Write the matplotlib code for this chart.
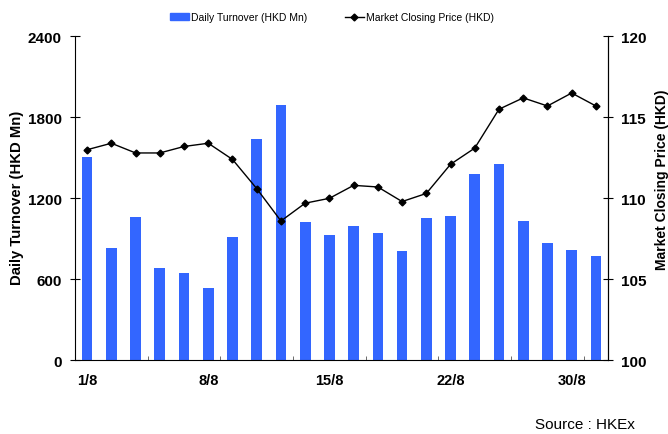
import matplotlib
matplotlib.use("Agg")
import matplotlib.pyplot as plt
from matplotlib.lines import Line2D
from matplotlib.patches import Patch
import numpy as np

plt.rcParams['font.family'] = ['Liberation Sans', 'DejaVu Sans']

# 交易日 (2006年8月)
dates = ["1/8", "2/8", "3/8", "4/8", "7/8", "8/8", "9/8", "10/8", "11/8", "14/8", "15/8",
         "16/8", "17/8", "18/8", "21/8", "22/8", "23/8", "24/8", "25/8", "29/8", "30/8", "31/8"]
turnover = [1504, 832, 1061, 681, 644, 535, 916, 1637, 1891, 1022, 930,
            997, 943, 807, 1052, 1067, 1380, 1454, 1034, 871, 817, 770]
price = [113.0, 113.4, 112.8, 112.8, 113.2, 113.4, 112.4, 110.6, 108.6, 109.7, 110.0,
         110.8, 110.7, 109.8, 110.3, 112.1, 113.1, 115.5, 116.2, 115.7, 116.5, 115.7]
label_dates = ["1/8", "8/8", "15/8", "22/8", "30/8"]

x = np.arange(len(dates))

fig = plt.figure(figsize=(6.68, 4.35), dpi=100)
ax = fig.add_axes([0.1123, 0.1694, 0.7979, 0.7448])
ax2 = ax.twinx()

ax.bar(x, turnover, width=0.44, color="#3366FF", zorder=2)
ax2.plot(x, price, color="black", lw=1, marker="D", ms=3.5, zorder=3)

ax.set_xlim(-0.5, len(dates) - 0.5)
ax.set_ylim(0, 2400)
ax.set_yticks([0, 600, 1200, 1800, 2400])
ax2.set_ylim(100, 120)
ax2.set_yticks([100, 105, 110, 115, 120])

# x軸: ラベルは5日ごと, 目盛りは3日ごと
ax.set_xticks([dates.index(d) for d in label_dates])
ax.set_xticklabels(label_dates, fontweight="bold", fontsize=10.5)
ax.tick_params(axis="x", which="major", length=0, pad=9)
ax.set_xticks(np.arange(2.5, len(dates) - 1, 3), minor=True)
ax.tick_params(axis="x", which="minor", direction="in", length=3, color="#555555")

ax.tick_params(axis="y", direction="inout", length=7, labelsize=11, pad=6)
ax2.tick_params(axis="y", direction="inout", length=7, labelsize=11, pad=6)
for lab in ax.get_yticklabels() + ax2.get_yticklabels():
    lab.set_fontweight("bold")

for a in (ax, ax2):
    a.spines["top"].set_visible(False)
ax2.spines["left"].set_visible(False)
ax2.spines["bottom"].set_visible(False)

ax.set_ylabel("Daily Turnover (HKD Mn)", fontweight="bold", fontsize=10.7)
ax.yaxis.set_label_coords(-0.096, 0.504)
ax2.set_ylabel("Market Closing Price (HKD)", fontweight="bold", fontsize=10)
ax2.yaxis.set_label_coords(1.088, 0.561)

handles = [Patch(color="#3366FF"),
           Line2D([], [], color="black", lw=1, marker="D", ms=3.5)]
fig.legend(handles, ["Daily Turnover (HKD Mn)", "Market Closing Price (HKD)"],
           loc="center", bbox_to_anchor=(0.497, 0.958), ncol=2, frameon=False,
           fontsize=7.5, handlelength=1.8, handleheight=0.6, columnspacing=3.6,
           handletextpad=0.2)

fig.text(0.951, 0.006, "Source : HKEx", ha="right", va="bottom", fontsize=11)

fig.savefig("out.png", dpi=100)
